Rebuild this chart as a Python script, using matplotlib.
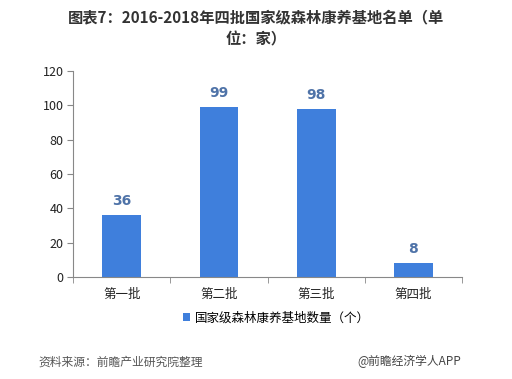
import matplotlib.pyplot as plt
import numpy as np

plt.rcParams['font.family'] = ['Noto Sans CJK SC', 'DejaVu Sans']

categories = ['第一批', '第二批', '第三批', '第四批']
values = [36, 99, 98, 8]
yticks = [0, 20, 40, 60, 80, 100, 120]

fig = plt.figure(figsize=(5.12, 3.79), dpi=100)
ax = fig.add_axes([0.143, 0.269, 0.759, 0.544])

x = np.arange(len(categories))
bars = ax.bar(x, values, width=0.4, color='#3f7fdc', label='国家级森林康养基地数量（个）')
for xi, v in zip(x, values):
    ax.text(xi, v + 4, str(v), ha='center', va='bottom', fontsize=10,
            fontweight='bold', color='#4f73a8', family='DejaVu Sans')

ax.set_xlim(-0.5, len(categories) - 0.5)
ax.set_ylim(0, 120)
ax.set_yticks(yticks)
ax.set_yticklabels([str(t) for t in yticks], fontsize=9, color='#222222')
ax.set_xticks(x)
ax.set_xticklabels(categories, fontsize=9, color='#222222')
ax.set_xticks(np.arange(-0.5, len(categories)), minor=True)
ax.tick_params(axis='x', which='major', length=0, pad=8)
ax.tick_params(axis='x', which='minor', length=4, color='#888888')
ax.tick_params(axis='y', length=4, color='#888888', pad=3)
for s in ['top', 'right']:
    ax.spines[s].set_visible(False)
for s in ['left', 'bottom']:
    ax.spines[s].set_color('#888888')
    ax.spines[s].set_linewidth(0.8)

fig.text(0.5, 0.955, '图表7：2016-2018年四批国家级森林康养基地名单（单',
         ha='center', va='center', fontsize=11, fontweight='bold', color='#333333')
fig.text(0.5, 0.895, '位：家）', ha='center', va='center', fontsize=11,
         fontweight='bold', color='#333333')

leg = fig.legend(handles=[bars], loc='center', bbox_to_anchor=(0.54, 0.16), frameon=False,
                 fontsize=9, handlelength=0.6, handleheight=0.6, handletextpad=0.4)

fig.text(0.075, 0.045, '资料来源：前瞻产业研究院整理', ha='left', va='center',
         fontsize=8.5, style='italic', color='#555555')
fig.text(0.9, 0.045, '@前瞻经济学人APP', ha='right', va='center',
         fontsize=8.5, color='#444444')

fig.savefig('out.png', dpi=100)
